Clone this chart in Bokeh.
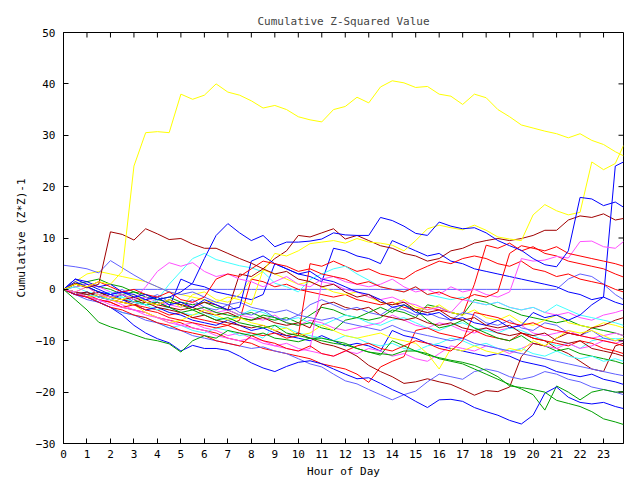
import math
from bokeh.plotting import figure
from bokeh.models import Range1d, FixedTicker
from bokeh.embed import file_html
from bokeh.resources import INLINE

hours = [0, 0.5, 1, 1.5, 2, 2.5, 3, 3.5, 4, 4.5, 5, 5.5,
         6, 6.5, 7, 7.5, 8, 8.5, 9, 9.5, 10, 10.5, 11, 11.5,
         12, 12.5, 13, 13.5, 14, 14.5, 15, 15.5, 16, 16.5, 17, 17.5,
         18, 18.5, 19, 19.5, 20, 20.5, 21, 21.5, 22, 22.5, 23, 23.5,
         23.85]

hour_ticks = list(range(24))
value_ticks = [-30, -20, -10, 0, 10, 20, 30, 40, 50]
x_min, x_max = 0, 23.85
y_min, y_max = -30, 50

s0 = [0, -1.0, -0.5, -1.5, -1.0, -0.5, 0, 0, 0, 0, 0, 0,
      0, 0, 0, 0, 0, 0, 0, 0, 0, 0, 0, 0,
      0, 0, 0, 0, 0, 0, 0, 0, 0, 0, 0, 0,
      0, 0, 0, 0, 0, 0, 0, 2.0, 3.0, 2.5, 1.0, -1.0,
      -2.0]
s1 = [4.7, 4.4, 4.0, 3.2, 5.6, 4.2, 2.8, 1.5, 0.5, -0.5, -1.0, -0.5,
      -1.5, -2.5, -3.0, -2.5, -3.5, -4.0, -4.5, -4.0, -5.0, -5.5, -6.0, -5.5,
      -6.5, -7.0, -7.5, -8.0, -7.0, -8.0, -8.5, -9.0, -9.5, -10.0, -9.5, -10.5,
      -11.0, -11.5, -12.0, -12.5, -13.0, -13.5, -14.0, -14.5, -15.0, -15.5, -16.0, -16.5,
      -16.8]
s2 = [0, -1.0, -2.0, -2.5, -3.5, -4.5, -5.0, -6.0, -6.5, -7.5, -8.0, -9.0,
      -9.5, -10.0, -10.5, -11.0, -11.5, -11.2, -12.0, -12.5, -13.5, -14.5, -15.1, -16.5,
      -17.8, -18.4, -19.5, -20.5, -21.5, -20.5, -19.8, -18.0, -16.5, -17.0, -17.5, -16.0,
      -15.5, -16.0, -17.0, -17.5, -17.0, -16.0, -16.5, -17.5, -18.0, -19.0, -19.5, -20.0,
      -20.5]
s3 = [0, 1.0, 0.5, -0.5, -1.0, 0.0, -1.5, -2.0, -1.0, -2.5, -3.0, -2.0,
      -3.5, -4.0, -3.0, -4.5, -5.0, -4.0, -5.5, -6.0, -5.0, -3.0, -2.0, -3.0,
      -4.0, -3.5, -4.5, -5.0, -3.5, -4.0, -5.0, -4.5, -5.5, -6.0, -4.5, -5.0,
      -6.5, -7.0, -6.0, -7.5, -8.0, -6.5, -7.0, -8.5, -9.0, -8.0, -9.5, -10.0,
      -9.5]
r1 = [0, -0.5, -1.5, -1.0, -2.0, -2.5, -3.0, -3.5, -4.0, -5.0, -4.5, -5.5,
      -6.0, -6.5, -7.0, -6.0, 2.0, 1.5, 0.5, 1.0, 0.0, -0.5, -1.0, -1.5,
      -1.0, -2.0, -2.5, -3.0, -2.5, -3.5, -4.0, -3.5, -4.0, -4.5, -5.0, 1.0,
      8.6, 8.0, 9.0, 7.5, 8.3, 7.0, 6.5, 5.5, 5.0, 4.5, 4.0, 3.0,
      2.4]
r2 = [0, -0.5, -1.0, -2.0, -2.5, -3.5, -4.0, -4.5, -5.5, -6.0, -6.5, -7.5,
      -8.0, -8.5, -9.5, -10.0, -10.5, -11.5, -12.0, -12.5, -13.0, -13.5, -14.5, -15.0,
      -15.5, -16.5, -18.1, -15.1, -14.0, -13.1, -8.0, -7.5, -8.5, -9.0, -9.5, -8.0,
      -9.0, -9.5, -10.0, -8.5, -9.5, -10.0, -10.5, -11.0, -10.0, -10.5, -11.5, -12.0,
      -12.5]
r3 = [0, -0.5, -1.5, -2.0, -2.5, -3.5, -3.0, -4.0, -4.5, -5.5, -6.0, -6.5,
      -7.0, -7.5, -7.0, -8.0, -8.5, -9.0, -8.5, -9.5, -9.0, 5.0, 4.5, 5.5,
      4.5, 3.5, 4.0, 3.0, 2.5, 2.0, 3.5, 4.5, 5.5, 5.0, 6.0, 6.5,
      6.0, 5.0, 4.5, 5.5, 4.0, 3.5, 2.5, 3.0, 2.0, 1.5, 1.0, 0.0,
      -0.5]
r4 = [0, -1.0, -1.5, -2.5, -3.5, -4.0, -5.0, -5.5, -6.5, -7.0, -8.0, -8.5,
      -9.0, -10.0, -10.5, -11.0, -9.0, -10.0, -10.5, -11.5, -12.0, -11.0, -12.5, -13.0,
      -12.0, -11.0, -10.5, -11.5, -12.0, -11.0, -10.0, -10.5, -11.5, -12.0, -10.0, -4.5,
      -5.0, -5.5, -6.5, -7.0, -6.5, -7.5, -8.0, -8.5, -9.0, -9.5, -10.0, -10.5,
      -11.0]
r5 = [0, 1.0, 0.5, 1.5, 0.5, -0.5, 0.0, -1.0, -1.5, -0.5, -2.0, -2.5,
      -1.5, 2.0, 3.0, 2.5, 4.0, 5.5, 5.0, 4.5, 3.5, 4.0, 3.0, 2.5,
      2.0, 1.0, 1.5, 0.5, 0.0, -0.5, 0.5, -1.0, -0.5, -1.5, -2.0, -1.0,
      -1.5, -0.5, 7.0, 8.5, 8.0, 7.5, 8.3, 7.0, 6.5, 6.0, 5.5, 5.0,
      4.5]
dr1 = [0, -1.0, -0.5, -1.5, -2.0, -2.5, -3.0, -2.5, -3.5, -4.0, -4.5, -5.5,
       -5.0, -6.0, -6.5, -7.0, -7.5, -7.0, -8.0, -9.0, -8.5, -9.5, -10.5, -11.0,
       -11.8, -13.0, -14.8, -16.0, -17.0, -18.3, -18.0, -17.4, -18.0, -18.5, -19.5, -20.6,
       -19.7, -19.9, -19.0, -13.1, -10.5, -11.0, -9.5, -8.5, -9.0, -7.5, -7.0, -6.0,
       -5.5]
dr2 = [0, 1.2, 0.3, 1.0, 11.2, 10.7, 9.6, 11.8, 10.8, 9.7, 9.9, 8.8,
       8.0, 8.0, 7.0, 6.0, 5.1, 4.0, 3.0, 3.5, 2.0, 1.5, 0.5, 1.0,
       -0.5, -1.5, -1.0, -2.5, -3.0, -2.5, -4.0, -4.5, -4.0, -5.5, -6.0, -5.5,
       -7.0, -7.5, -7.0, -8.5, -9.0, -8.5, -10.0, -10.5, -10.0, -11.5, -12.0, -12.5,
       -13.0]
dr3 = [0, -0.5, -1.0, -0.5, -1.5, -2.0, -1.5, -2.5, -3.0, -2.0, -3.0, -3.5,
       -2.5, -3.0, -4.0, 3.0, 2.5, 4.0, 6.0, 7.5, 10.5, 10.2, 11.0, 11.8,
       9.8, 10.5, 9.5, 8.5, 8.0, 7.0, 6.5, 5.5, 6.0, 7.5, 8.0, 9.0,
       9.5, 9.9, 9.5, 9.9, 10.5, 11.5, 11.5, 13.5, 14.3, 14.0, 14.7, 13.5,
       13.8]
dr4 = [0, -0.5, -1.0, -0.5, -1.5, -2.0, -2.5, -2.0, -3.0, -3.5, -4.0, -3.5,
       -4.5, -5.0, -4.5, -5.5, -6.0, -5.5, -6.5, -7.0, -6.5, -7.5, -3.0, -2.5,
       -3.5, -4.0, -3.5, -5.0, -5.5, -6.0, -5.5, -6.5, -7.0, -6.5, -7.5, -8.0,
       -7.5, -8.5, -9.0, -8.5, -9.5, -10.0, -11.5, -12.5, -14.0, -15.5, -16.0, -11.0,
       -10.5]
b1 = [0, 2.0, 1.5, 0.5, 1.0, -0.5, -1.0, -2.0, -1.5, -3.0, -2.5, -3.5,
      -2.0, -3.0, -4.0, -3.5, 5.5, 6.5, 5.0, 4.0, 3.0, 3.5, 2.0, 1.5,
      0.5, -0.5, -1.0, -2.0, -3.5, -3.0, -4.5, -5.0, -4.5, -6.0, -5.5, -6.5,
      -7.0, -6.0, -7.5, -7.0, -4.5, -5.5, -5.0, -6.0, -5.0, -3.0, -1.5, 24.0,
      24.8]
b2 = [0, 1.5, 0.5, -0.5, -1.0, -0.5, -1.5, -1.0, -2.0, -1.5, -0.5, 1.2,
      6.0, 10.5, 12.8, 11.0, 9.5, 10.5, 8.3, 9.2, 9.2, 9.4, 9.8, 11.0,
      10.6, 10.5, 10.5, 14.0, 13.4, 12.3, 10.9, 10.5, 13.1, 12.3, 11.8, 12.0,
      11.0, 9.5, 8.5, 7.6, 6.0, 4.8, 4.4, 7.5, 17.9, 17.6, 16.3, 17.0,
      16.0]
b3 = [0, -1.0, -0.5, -1.5, -2.0, -1.0, -2.5, -3.0, -2.5, -3.5, 2.0, 1.0,
      0.5, -0.5, -1.0, -1.5, -2.0, -1.0, 5.0, 4.0, 3.0, 2.5, 1.5, 8.0,
      7.5, 6.5, 6.0, 5.0, 9.5, 8.5, 7.5, 6.5, 7.0, 5.5, 5.0, 4.0,
      3.5, 3.0, 2.5, 2.0, 1.5, 1.0, 0.5, -0.5, -1.0, -2.0, -1.5, -2.5,
      -3.0]
b4 = [0, 2.0, 1.0, 0.0, -1.0, -2.0, -3.0, -4.0, -3.5, -4.5, -5.0, -6.0,
      -6.5, -7.0, -6.0, -7.0, -8.0, -7.5, -8.5, -9.0, -9.5, -10.0, -9.0, -10.0,
      -11.0, -10.5, -11.0, -12.0, -8.0, -9.0, -9.5, -10.5, -11.0, -11.5, -12.0, -12.5,
      -13.0, -12.5, -13.0, -14.0, -14.5, -15.0, -16.0, -16.5, -17.0, -16.5, -17.5, -18.0,
      -18.5]
b5 = [0, -1.0, -1.5, -2.5, -3.5, -5.0, -7.0, -8.5, -9.6, -10.4, -12.0, -10.9,
      -11.5, -11.5, -11.9, -13.0, -14.3, -15.3, -16.0, -15.0, -14.2, -13.9, -14.5, -15.5,
      -16.5, -17.4, -17.2, -18.3, -19.5, -20.5, -21.8, -23.0, -21.5, -21.4, -21.8, -23.0,
      -23.8, -24.5, -25.5, -26.2, -24.5, -20.2, -19.0, -21.0, -22.0, -22.3, -22.0, -22.8,
      -23.2]
g1 = [0, -2.0, -4.0, -6.4, -7.3, -8.0, -8.8, -9.6, -10.0, -10.6, -12.2, -10.0,
      -9.0, -9.5, -8.0, -8.5, -9.0, -8.5, -9.5, -9.8, -10.2, -9.5, -10.0, -10.5,
      -10.8, -11.5, -12.2, -12.5, -12.8, -12.0, -12.0, -12.8, -13.3, -13.8, -14.2, -14.8,
      -15.8, -17.0, -18.8, -19.1, -19.5, -20.0, -21.6, -22.2, -22.8, -23.8, -25.2, -25.8,
      -26.3]
g2 = [0, 1.0, 0.5, -0.5, -1.5, -1.0, -2.0, -3.0, -2.5, -3.5, -4.5, -4.0,
      -5.0, -6.0, -5.5, -6.5, -7.0, -7.5, -7.0, -8.5, -9.0, -9.5, -9.5, -10.0,
      -10.5, -11.5, -12.2, -12.8, -10.0, -11.0, -12.0, -12.5, -13.5, -14.0, -14.5, -15.5,
      -16.5, -17.5, -18.5, -19.4, -20.5, -23.5, -18.8, -20.0, -21.5, -20.0, -19.5, -20.0,
      -19.9]
g3 = [0, 0.5, 1.0, 0.5, 0.0, -1.0, -0.5, -1.5, -2.0, -1.5, -2.5, -3.0,
      -2.5, -3.5, -4.0, -5.0, -4.5, -5.5, -6.0, -5.5, -6.5, -5.0, -3.5, -4.0,
      -5.0, -5.5, -6.0, -5.5, -4.0, -4.5, -5.5, -3.0, -3.5, -4.5, -5.0, -2.0,
      -2.5, -3.5, -4.0, -5.0, -5.5, -6.0, -6.5, -6.0, -7.0, -7.5, -8.0, -8.5,
      -9.0]
g4 = [0, 1.0, 1.5, 2.0, 1.0, 0.5, -0.5, -1.0, -2.0, -2.5, -3.0, -4.0,
      -3.5, -4.5, -5.0, -5.5, -6.0, -5.0, -5.5, -6.5, -7.0, -6.5, -7.5, -8.0,
      -6.0, -5.5, -4.5, -3.5, -4.5, -3.0, -4.0, -6.0, -7.5, -7.0, -6.0, -7.5,
      -8.5, -9.5, -10.0, -9.0, -10.5, -11.0, -12.0, -11.5, -12.5, -13.0, -13.5, -14.0,
      -14.5]
c1 = [0, -0.5, -1.0, -1.5, -2.0, -1.5, -2.5, -3.0, -2.0, 1.0, 3.5, 6.0,
      7.0, 5.8, 5.2, 4.6, 4.2, 3.4, 1.2, 0.5, -0.5, 1.9, 3.0, 4.0,
      4.5, 3.0, 1.8, 0.5, 0.0, -0.5, 0.5, -1.0, -1.5, -2.0, -1.5, -2.5,
      -3.0, -2.5, -3.5, -4.0, -3.5, -4.5, -3.0, -4.0, -5.0, -5.5, -6.0, -6.5,
      -7.0]
c2 = [0, -0.5, -1.5, -2.5, -3.5, -4.5, -5.0, -5.5, -6.5, -7.5, -7.0, -8.0,
      -8.5, -7.5, -8.0, -9.0, -8.5, -9.5, -7.0, -7.5, -8.5, -9.0, -9.5, -10.0,
      -9.0, -9.5, -10.5, -11.0, -10.5, -11.5, -12.0, -11.0, -10.5, -9.5, -10.0, -11.0,
      -10.5, -11.5, -12.0, -11.5, -12.5, -13.0, -12.0, -13.0, -13.5, -13.0, -14.0, -13.5,
      -14.0]
c3 = [0, 0.5, -0.5, -1.0, -0.5, -1.5, -2.5, -3.0, -4.0, -3.5, -4.5, -5.0,
      -4.5, -5.5, -6.0, -5.0, -4.0, -4.5, -5.5, -6.0, -5.5, -6.5, -7.0, -6.0,
      -5.0, -5.5, -6.5, -7.0, -6.0, -5.5, -6.5, -7.5, -8.0, -7.0, -6.5, -7.5,
      -8.0, -8.5, -7.5, -8.0, -9.0, -10.0, -11.0, -10.5, -11.5, -10.0, -9.5, -9.6,
      -9.6]
m1 = [0, -0.5, 0.5, -1.0, -1.5, -1.0, -2.0, 0.5, 3.5, 5.2, 4.5, 5.2,
      3.5, 2.5, 3.0, 2.0, 1.5, 0.5, 1.5, 2.5, 1.0, 0.5, 2.0, 2.5,
      1.5, 1.0, 0.5, 1.0, 2.0, 0.5, -0.5, 0.0, -1.0, 0.5, -0.5, 0.0,
      -1.0, -1.5, -0.5, 6.0, 5.5, 5.7, 6.4, 6.1, 9.3, 9.4, 8.3, 8.0,
      9.3]
m2 = [0, -0.5, -1.5, -2.0, -3.0, -3.5, -4.0, -5.0, -5.5, -6.5, -7.0, -7.5,
      -8.0, -9.0, -9.5, -10.0, -9.5, -10.5, -11.0, -11.5, -12.0, -11.5, 1.5, 1.0,
      0.0, -0.5, -1.5, -2.0, -1.5, -2.5, -3.0, -4.0, -3.5, -4.5, -2.0, -2.5,
      -3.0, -2.5, -3.5, -4.0, -3.5, -4.5, -5.0, -4.5, -5.5, -6.0, -5.0, -4.5,
      -4.0]
m3 = [0, -1.0, -1.5, -2.5, -2.0, -3.0, -4.0, -4.5, -5.5, -6.0, -7.0, -6.5,
      -7.5, -8.0, -9.0, -8.5, -9.5, -10.0, -11.0, -10.5, -11.5, -12.0, -12.5, -13.0,
      -12.0, -12.5, -11.5, -12.0, -13.0, -12.5, -13.5, -14.0, -12.5, -11.0, -11.5, -12.0,
      -11.0, -11.5, -12.5, -11.5, -10.5, -11.0, -11.5, -10.5, -11.5, -11.0, -10.0, -10.5,
      -10.0]
m4 = [0, 0.5, 1.0, 0.5, -0.5, -1.0, -2.0, -1.5, -2.5, -3.0, -3.5, -2.5,
      -4.0, -4.5, -4.0, -5.0, -5.5, -6.0, -5.0, -6.5, -7.0, -6.0, -6.5, -7.5,
      -8.0, -7.5, -7.0, -6.5, -5.0, -6.0, -7.0, -7.5, -6.5, -7.0, -8.0, -8.5,
      -7.5, -8.0, -7.5, -7.0, -8.5, -9.0, -8.5, -8.0, -9.0, -9.5, -9.0, -8.5,
      -9.0]
y1 = [0, 1.0, 0.5, 1.5, 1.0, 3.5, 24.0, 30.5, 30.7, 30.5, 38.0, 37.0,
      37.8, 40.0, 38.4, 37.8, 36.7, 35.3, 35.8, 35.0, 33.6, 33.0, 32.6, 35.0,
      35.6, 37.4, 36.3, 39.4, 40.6, 40.2, 39.3, 39.5, 38.0, 37.6, 36.0, 38.0,
      37.3, 35.0, 33.6, 32.0, 31.4, 30.8, 30.3, 29.5, 30.3, 29.0, 28.2, 26.8,
      26.0]
y2 = [0, -0.5, 0.5, -1.0, -1.5, -2.0, -1.0, -2.5, -3.0, -2.0, -3.5, -1.0,
      -0.5, -2.0, -2.5, -1.0, 2.0, 3.5, 7.0, 6.5, 7.5, 8.9, 9.2, 9.5,
      9.0, 9.9, 9.2, 9.0, 8.6, 7.5, 9.5, 11.8, 12.5, 12.0, 11.6, 12.5,
      11.5, 10.2, 9.8, 9.5, 14.5, 16.5, 15.3, 14.5, 15.0, 24.8, 23.3, 24.5,
      28.0]
y3 = [0, -0.5, -1.5, -1.0, -2.0, -2.5, -3.0, -4.5, -5.5, -6.5, -6.0, -5.0,
      -4.0, -5.0, -6.0, -5.5, -6.5, -7.0, -8.0, -7.5, -9.0, -8.5, -7.0, -8.0,
      -9.0, -9.5, -9.0, -8.5, -9.5, -10.0, -10.5, -12.5, -15.5, -11.5, -12.0, -11.0,
      -12.0, -12.5, -11.5, -12.0, -10.0, -11.0, -9.5, -8.0, -8.5, -8.0, -9.0, -10.0,
      -9.5]
y4 = [0, 1.5, 3.0, 3.5, 3.0, 2.5, 2.0, 1.5, 0.5, -0.5, -1.0, -1.5,
      -2.0, -2.5, -1.5, -2.0, -3.0, 3.8, 3.0, 2.0, 1.0, 1.5, 0.5, -0.5,
      -1.0, -0.5, -1.5, -2.5, -3.0, -2.0, -3.5, -4.0, -3.0, -4.5, -5.0, -4.0,
      -5.5, -6.0, -5.0, -6.5, -7.0, -6.0, -5.0, -6.5, -7.0, -7.5, -6.5, -7.0,
      -7.5]

RED, GREEN, BLUE, MAGENTA = "#ff0000", "#00a000", "#0000ff", "#ff50ff"
CYAN, DARKRED, YELLOW, SLATE = "#40ffff", "#a00000", "#ffff00", "#6060ff"

series = [
    (s0, SLATE), (r1, RED), (g3, GREEN), (b3, BLUE), (m4, MAGENTA), (c3, CYAN),
    (dr4, DARKRED), (y4, YELLOW), (s3, SLATE), (r2, RED), (g4, GREEN), (b4, BLUE),
    (m3, MAGENTA), (c2, CYAN), (dr1, DARKRED), (y3, YELLOW), (s2, SLATE), (r3, RED),
    (g2, GREEN), (b5, BLUE), (m2, MAGENTA), (c1, CYAN), (dr3, DARKRED), (y2, YELLOW),
    (s1, SLATE), (r4, RED), (g1, GREEN), (b1, BLUE), (m1, MAGENTA), (r5, RED),
    (dr2, DARKRED), (b2, BLUE), (y1, YELLOW),
]

FONT = "DejaVu Sans Mono"
FS = "11px"

p = figure(width=640, height=480, output_backend="svg", toolbar_location=None,
           x_range=Range1d(x_min, x_max), y_range=Range1d(y_min, y_max),
           min_border_left=63, min_border_right=17, min_border_top=32,
           min_border_bottom=37, title="Cumulative Z-Squared Value")

for vals, col in series:
    p.line(hours, vals, line_color=col, line_width=1)

# mirrored tick marks on the top and right edges (5 px, pointing inward)
p.ray(x=hour_ticks, y=[y_max] * len(hour_ticks), length=5, length_units="screen",
      angle=-math.pi / 2, line_color="black", line_width=1)
p.ray(x=[x_max] * len(value_ticks), y=value_ticks, length=5, length_units="screen",
      angle=math.pi, line_color="black", line_width=1)

p.grid.visible = False
p.outline_line_color = "black"
p.background_fill_color = "white"
p.border_fill_color = "white"

p.title.align = "center"
p.title.text_font = FONT
p.title.text_font_size = FS
p.title.text_font_style = "normal"
p.title.standoff = 9

p.xaxis.ticker = FixedTicker(ticks=hour_ticks)
p.yaxis.ticker = FixedTicker(ticks=value_ticks)
p.xaxis.axis_label = "Hour of Day"
p.yaxis.axis_label = "Cumulative (Z*Z)-1"
p.xaxis.major_label_standoff = 6
p.yaxis.major_label_standoff = 8
p.xaxis.axis_label_standoff = 4
p.yaxis.axis_label_standoff = 5

for ax in [p.xaxis[0], p.yaxis[0]]:
    ax.major_tick_in = 5
    ax.major_tick_out = 0
    ax.minor_tick_in = 0
    ax.minor_tick_out = 0
    ax.axis_line_color = "black"
    ax.major_tick_line_color = "black"
    ax.major_label_text_font = FONT
    ax.major_label_text_font_size = FS
    ax.major_label_text_color = "black"
    ax.axis_label_text_font = FONT
    ax.axis_label_text_font_size = FS
    ax.axis_label_text_font_style = "normal"
    ax.axis_label_text_color = "black"

open("out.html", "w").write(file_html(p, INLINE))
